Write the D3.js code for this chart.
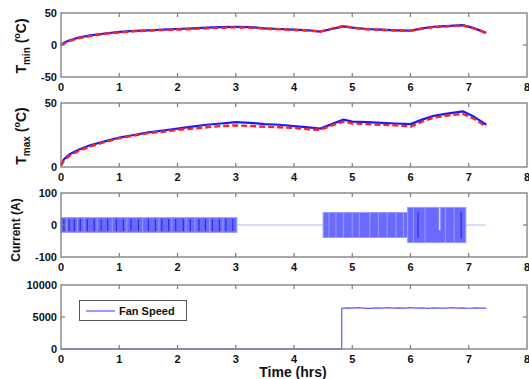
<!DOCTYPE html>
<html>
<head>
<meta charset="utf-8">
<script src="https://cdn.jsdelivr.net/npm/d3@7"></script>
<style>
  html, body { margin: 0; padding: 0; background: #fff; }
  svg { display: block; font-family: "Liberation Sans", Arial, sans-serif; font-weight: bold; }
</style>
</head>
<body>
<svg id="chart" width="529" height="379"></svg>
<script>
// Sampling times (hours) for the temperature traces
const tempTimes = [0, 0.05, 0.15, 0.3, 0.5, 0.75, 1, 1.25, 1.5, 1.75, 2, 2.25, 2.5, 2.75, 3, 3.25, 3.5, 3.75, 4, 4.25, 4.45, 4.65, 4.85, 5.0, 5.25, 5.5, 5.75, 6.0, 6.2, 6.4, 6.6, 6.9, 7.1, 7.3];

// Minimum cell temperature: measured (blue) and model (red dashed)
const tminMeasured = [0, 3.5, 7.5, 11.5, 15, 18, 20.5, 22, 23, 24, 25, 26, 27, 28, 28.5, 28, 26, 25, 24, 23, 21, 25, 29, 27, 25, 24, 23, 22.5, 26, 28.5, 29.5, 31, 26, 19];
const tminModel    = [0, 2.5, 6.5, 10.5, 14, 17.5, 19.5, 21.5, 22.5, 23.5, 24, 25, 26, 27, 27.5, 27, 25.5, 24.5, 23.5, 22.5, 21, 25.5, 30, 27, 24.5, 23.5, 22.5, 22, 25.5, 28, 29, 30.5, 25.5, 18.5];

// Maximum cell temperature: measured (blue) and model (red dashed)
const tmaxMeasured = [2, 6, 10, 13.5, 17, 20, 23, 25, 27, 28.5, 30, 31.5, 33, 34, 35, 34.5, 33.5, 33, 32, 31, 30, 33.5, 37, 35.5, 35, 34.5, 34, 33.5, 37, 40, 41.5, 43.5, 39, 33];
const tmaxModel    = [1, 5, 9, 12.5, 16, 19.5, 22.5, 24.5, 26.5, 27.5, 29, 30, 31, 32, 32.5, 32, 31.5, 31, 30.5, 29.5, 29, 32.5, 35.5, 34, 33.5, 33, 32.5, 31.5, 35.5, 38.5, 40, 41.5, 37.5, 31.5];

// Current: pulsed blocks (start, end, peak amplitude in A); zero elsewhere until end of run
const currentStart = [0, 4.5, 5.95];
const currentEnd   = [3.02, 5.95, 6.95];
const currentAmp   = [23, 39, 55];
const currentRunEnd = 7.3;
// Dense pulse clusters and lighter gaps inside the blocks
const currentStreaks = [0.05, 0.14, 0.23, 0.33, 0.45, 0.57, 0.69, 0.8, 0.95, 1.07, 1.2, 1.33, 1.5, 1.62, 1.73, 1.85, 1.97, 2.1, 2.22, 2.37, 2.48, 2.6, 2.72, 2.83, 2.95, 6.13, 6.87];
const currentLightStreaks = [0.1, 0.28, 0.4, 0.62, 0.88, 1.13, 1.4, 1.68, 1.9, 2.15, 2.3, 2.55, 2.78, 4.6, 4.72, 4.85, 5.0, 5.12, 5.3, 5.45, 5.6, 5.75, 5.88, 6.05, 6.25, 6.6, 6.75];
const currentGap = 6.5;

// Fan speed (rpm)
const fanTimes  = [0, 4.82, 4.82, 4.9, 5.0, 5.1, 5.2, 5.3, 5.4, 5.5, 5.6, 5.7, 5.8, 5.9, 6.0, 6.1, 6.2, 6.3, 6.4, 6.5, 6.6, 6.7, 6.8, 6.9, 7.0, 7.1, 7.2, 7.3];
const fanSpeed  = [0, 0, 6350, 6420, 6380, 6450, 6400, 6360, 6440, 6390, 6460, 6380, 6430, 6400, 6470, 6390, 6440, 6360, 6420, 6400, 6380, 6450, 6390, 6420, 6370, 6430, 6400, 6380];

// Axis ticks
const xTicks = [0, 1, 2, 3, 4, 5, 6, 7, 8];
const tminTicks = [-50, 0, 50];
const tmaxTicks = [0, 50];
const currentTicks = [-100, 0, 100];
const fanTicks = [0, 5000, 10000];

const svg = d3.select("#chart");
const left = 61, right = 527, panelH = 64;
const x = d3.scaleLinear().domain([0, 8]).range([left, right]);
const frameColor = "#7a7a7a";

function panel(top, yDomain, yTicks) {
  const y = d3.scaleLinear().domain(yDomain).range([top + panelH, top]);
  const g = svg.append("g");
  const plot = g.append("g");
  const axes = g.append("g");
  // frame
  axes.append("rect")
    .attr("x", left).attr("y", top).attr("width", right - left).attr("height", panelH)
    .attr("fill", "none").attr("stroke", frameColor).attr("stroke-width", 1.3);
  // x ticks (inward, top and bottom) and labels
  xTicks.forEach(t => {
    const px = x(t);
    if (t > 0 && t < 8) {
      axes.append("line").attr("x1", px).attr("x2", px).attr("y1", top + panelH).attr("y2", top + panelH - 4)
        .attr("stroke", frameColor).attr("stroke-width", 1.2);
      axes.append("line").attr("x1", px).attr("x2", px).attr("y1", top).attr("y2", top + 4)
        .attr("stroke", frameColor).attr("stroke-width", 1.2);
    }
    axes.append("text").attr("x", px).attr("y", top + panelH + 14)
      .attr("text-anchor", "middle").attr("font-size", 11).attr("fill", "#111").text(t);
  });
  // y ticks (inward, left and right) and labels
  yTicks.forEach(v => {
    const py = y(v);
    if (v !== yDomain[0] && v !== yDomain[1]) {
      axes.append("line").attr("x1", left).attr("x2", left + 4).attr("y1", py).attr("y2", py)
        .attr("stroke", frameColor).attr("stroke-width", 1.2);
      axes.append("line").attr("x1", right).attr("x2", right - 4).attr("y1", py).attr("y2", py)
        .attr("stroke", frameColor).attr("stroke-width", 1.2);
    }
    axes.append("text").attr("x", left - 4).attr("y", py + 4)
      .attr("text-anchor", "end").attr("font-size", 11).attr("fill", "#111").text(v);
  });
  return { y, plot, top };
}

function tempLines(p, times, measured, model) {
  const line = (vals) => d3.line().x((d, i) => x(times[i])).y(d => p.y(d))(vals);
  p.plot.append("path").attr("d", line(measured)).attr("fill", "none")
    .attr("stroke", "#1a1aff").attr("stroke-width", 2.2).attr("stroke-linejoin", "round");
  p.plot.append("path").attr("d", line(model)).attr("fill", "none")
    .attr("stroke", "#ff2020").attr("stroke-width", 2.4).attr("stroke-dasharray", "6,3");
}

function rotatedLabel(cx, cy) {
  return svg.append("text")
    .attr("transform", `translate(${cx},${cy}) rotate(-90)`)
    .attr("text-anchor", "middle").attr("fill", "#111");
}

// Panel 1: Tmin
const p1 = panel(13, [-50, 50], tminTicks);
tempLines(p1, tempTimes, tminMeasured, tminModel);
{
  const t = rotatedLabel(26, 46).attr("font-size", 14);
  t.append("tspan").text("T");
  t.append("tspan").attr("font-size", 10).attr("dy", 4).text("min");
  t.append("tspan").attr("dy", -4).text(" (");
  t.append("tspan").attr("font-size", 9).attr("dy", -6).text("o");
  t.append("tspan").attr("dy", 6).text("C)");
}

// Panel 2: Tmax
const p2 = panel(103, [0, 50], tmaxTicks);
tempLines(p2, tempTimes, tmaxMeasured, tmaxModel);
{
  const t = rotatedLabel(26, 136).attr("font-size", 14);
  t.append("tspan").text("T");
  t.append("tspan").attr("font-size", 10).attr("dy", 4).text("max");
  t.append("tspan").attr("dy", -4).text(" (");
  t.append("tspan").attr("font-size", 9).attr("dy", -6).text("o");
  t.append("tspan").attr("dy", 6).text("C)");
}

// Panel 3: Current
const p3 = panel(193, [-100, 100], currentTicks);
p3.plot.append("line")
  .attr("x1", x(0)).attr("x2", x(currentRunEnd)).attr("y1", p3.y(0)).attr("y2", p3.y(0))
  .attr("stroke", "#b8b8ff").attr("stroke-width", 1.2);
currentStart.forEach((s, i) => {
  p3.plot.append("rect")
    .attr("x", x(s)).attr("width", x(currentEnd[i]) - x(s))
    .attr("y", p3.y(currentAmp[i])).attr("height", p3.y(-currentAmp[i]) - p3.y(currentAmp[i]))
    .attr("fill", "#6a6aff").attr("stroke", "#9a9aff").attr("stroke-width", 1);
});
function ampAt(t) {
  const i = currentStart.findIndex((s, k) => t >= s && t <= currentEnd[k]);
  return i < 0 ? 0 : currentAmp[i];
}
currentLightStreaks.forEach(t => {
  const a = ampAt(t);
  p3.plot.append("line").attr("x1", x(t)).attr("x2", x(t)).attr("y1", p3.y(a)).attr("y2", p3.y(-a))
    .attr("stroke", "#9494ff").attr("stroke-width", 1.2);
});
{
  const a = ampAt(currentGap);
  p3.plot.append("line").attr("x1", x(currentGap)).attr("x2", x(currentGap))
    .attr("y1", p3.y(a)).attr("y2", p3.y(-a * 0.3))
    .attr("stroke", "#d6d6ff").attr("stroke-width", 1.6);
}
currentStreaks.forEach(t => {
  const a = ampAt(t);
  const k = t > 5.95 ? 0.75 : 0.8;
  p3.plot.append("line").attr("x1", x(t)).attr("x2", x(t)).attr("y1", p3.y(a * k)).attr("y2", p3.y(-a * k))
    .attr("stroke", "#2a2ad8").attr("stroke-width", 1.1);
});
rotatedLabel(20, 230).attr("font-size", 12).text("Current (A)");

// Panel 4: Fan speed
const p4 = panel(285, [0, 10000], fanTicks);
p4.plot.append("path")
  .attr("d", d3.line().x((d, i) => x(fanTimes[i])).y(d => p4.y(d))(fanSpeed))
  .attr("fill", "none").attr("stroke", "#5a5aff").attr("stroke-width", 1.2);
// legend
const lg = svg.append("g");
lg.append("rect").attr("x", 79.5).attr("y", 300.5).attr("width", 107).attr("height", 20)
  .attr("fill", "#fff").attr("stroke", "#555").attr("stroke-width", 1);
lg.append("line").attr("x1", 86).attr("x2", 115).attr("y1", 311).attr("y2", 311)
  .attr("stroke", "#5a5aff").attr("stroke-width", 1.2);
lg.append("text").attr("x", 119).attr("y", 315).attr("font-size", 11).attr("fill", "#111").text("Fan Speed");

// x axis title
svg.append("text").attr("x", 293).attr("y", 377).attr("text-anchor", "middle")
  .attr("font-size", 14).attr("fill", "#111").text("Time (hrs)");
</script>
</body>
</html>
